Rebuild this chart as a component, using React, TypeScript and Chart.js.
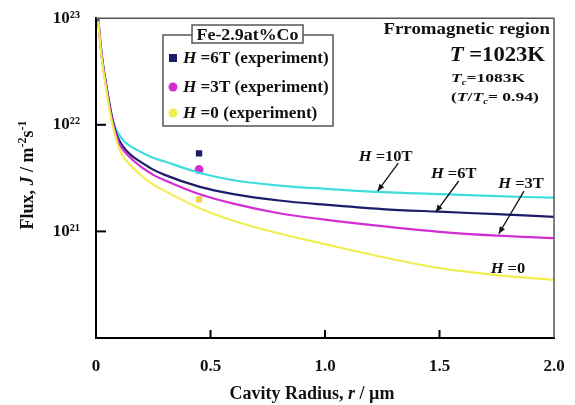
import React, { useEffect, useRef } from 'react';
import { Chart, registerables } from 'chart.js';
Chart.register(...registerables);

// ---- data ----
const radius = [0.01, 0.02, 0.03, 0.04, 0.05, 0.06, 0.07, 0.08, 0.09, 0.1, 0.12, 0.15, 0.2, 0.25, 0.3, 0.45, 0.6, 0.8, 1.0, 1.25, 1.5, 1.75, 2.0];
const flux10T = [1.0e23, 5.75e22, 3.8e22, 2.75e22, 2.04e22, 1.55e22, 1.2e22, 1.0e22, 8.9e21, 8.13e21, 7.08e21, 6.31e21, 5.5e21, 4.9e21, 4.52e21, 3.55e21, 3.02e21, 2.69e21, 2.51e21, 2.34e21, 2.24e21, 2.14e21, 2.07e21];
const flux6T = [9.77e22, 5.62e22, 3.72e22, 2.69e22, 2.0e22, 1.51e22, 1.17e22, 9.55e21, 8.13e21, 7.24e21, 6.17e21, 5.25e21, 4.42e21, 3.8e21, 3.39e21, 2.63e21, 2.24e21, 1.95e21, 1.78e21, 1.62e21, 1.53e21, 1.45e21, 1.37e21];
const flux3T = [9.55e22, 5.5e22, 3.63e22, 2.63e22, 1.95e22, 1.45e22, 1.12e22, 9.12e21, 7.76e21, 6.76e21, 5.75e21, 4.9e21, 3.98e21, 3.39e21, 3.02e21, 2.24e21, 1.82e21, 1.48e21, 1.29e21, 1.12e21, 9.9e20, 9.12e20, 8.65e20];
const flux0T = [9.33e22, 5.25e22, 3.47e22, 2.51e22, 1.82e22, 1.35e22, 1.05e22, 8.51e21, 7.08e21, 6.03e21, 5.01e21, 4.17e21, 3.31e21, 2.75e21, 2.4e21, 1.66e21, 1.26e21, 9.55e20, 7.59e20, 5.75e20, 4.52e20, 3.89e20, 3.52e20];

const expRadius = [0.45];
const exp6T = [5.4e21];
const exp3T = [3.8e21];
const exp0T = [2.0e21];

const xTickValues = [0, 0.5, 1.0, 1.5, 2.0];
const xTickLabels = ['0', '0.5', '1.0', '1.5', '2.0'];
const yTickValues = [1e20, 1e21, 1e22, 1e23];
const yTickLabels = ['', '10²¹', '10²²', '10²³'];

const curveLabels = ['=10T', '=6T', '=3T', '=0'];
const labelX = [1.265, 1.562, 1.856, 1.799];
const labelY = [5.07e21, 3.5e21, 2.84e21, 4.58e20];
const arrowFromX = [1.32, 1.584, 1.869];
const arrowFromY = [4.37e21, 2.97e21, 2.39e21];
const arrowToX = [1.23, 1.484, 1.759];
const arrowToY = [2.39e21, 1.52e21, 9.5e20];

const legendNames = [' =6T (experiment)', ' =3T (experiment)', ' =0 (experiment)'];
const legendTitle = 'Fe-2.9at%Co';

const C_CYAN = '#3fdcdc';
const C_NAVY = '#1c1c6a';
const C_MAG = '#d22ed2';
const C_YEL = '#f0ee50';
const C_YEL_PT = '#efd34a';

const FONT = '"Liberation Serif", "Times New Roman", serif';

type Seg = { t: string; it?: boolean; sup?: boolean; sub?: boolean };

function drawRich(ctx: CanvasRenderingContext2D, segs: Seg[], x: number, y: number, size: number, align: 'left' | 'center' | 'right', sx = 1) {
  const fontFor = (s: Seg) => `${s.it ? 'italic ' : ''}bold ${s.sup || s.sub ? Math.round(size * 0.65) : size}px ${FONT}`;
  let w = 0;
  for (const s of segs) { ctx.font = fontFor(s); w += ctx.measureText(s.t).width; }
  const W = w * sx;
  const x0 = align === 'left' ? x : align === 'center' ? x - W / 2 : x - W;
  ctx.save();
  ctx.translate(x0, y);
  ctx.scale(sx, 1);
  ctx.textAlign = 'left';
  ctx.textBaseline = 'alphabetic';
  let cx = 0;
  for (const s of segs) {
    ctx.font = fontFor(s);
    const dy = s.sup ? -size * 0.4 : s.sub ? size * 0.22 : 0;
    ctx.fillText(s.t, cx, dy);
    cx += ctx.measureText(s.t).width;
  }
  ctx.restore();
}

function arrow(ctx: CanvasRenderingContext2D, x0: number, y0: number, x1: number, y1: number) {
  ctx.beginPath();
  ctx.moveTo(x0, y0);
  ctx.lineTo(x1, y1);
  ctx.stroke();
  const a = Math.atan2(y1 - y0, x1 - x0);
  const L = 7, W = 3;
  ctx.beginPath();
  ctx.moveTo(x1, y1);
  ctx.lineTo(x1 - L * Math.cos(a) + W * Math.sin(a), y1 - L * Math.sin(a) - W * Math.cos(a));
  ctx.lineTo(x1 - L * Math.cos(a) - W * Math.sin(a), y1 - L * Math.sin(a) + W * Math.cos(a));
  ctx.closePath();
  ctx.fill();
}

const decorPlugin = {
  id: 'decor',
  afterDatasetsDraw(chart: any) {
    const { ctx, chartArea: ca, scales } = chart;
    const xs = scales.x, ys = scales.y;
    ctx.save();
    // frame top & right
    ctx.strokeStyle = '#555';
    ctx.lineWidth = 1.5;
    ctx.beginPath();
    ctx.moveTo(ca.left, ca.top);
    ctx.lineTo(ca.right, ca.top);
    ctx.lineTo(ca.right, ca.bottom);
    ctx.stroke();
    // inward ticks
    ctx.strokeStyle = '#000';
    ctx.lineWidth = 2;
    for (const v of xTickValues) {
      if (v === xTickValues[0] || v === xTickValues[xTickValues.length - 1]) continue;
      const px = xs.getPixelForValue(v);
      ctx.beginPath(); ctx.moveTo(px, ca.bottom); ctx.lineTo(px, ca.bottom - 8); ctx.stroke();
    }
    for (const v of yTickValues) {
      if (v === yTickValues[0] || v === yTickValues[yTickValues.length - 1]) continue;
      const py = ys.getPixelForValue(v);
      ctx.beginPath(); ctx.moveTo(ca.left, py); ctx.lineTo(ca.left + 10, py); ctx.stroke();
    }
    // axis titles
    ctx.fillStyle = '#111';
    drawRich(ctx, [{ t: 'Cavity Radius, ' }, { t: 'r', it: true }, { t: ' / µm' }], 312, 399, 18, 'center');
    ctx.save();
    ctx.translate(27, 175);
    ctx.rotate(-Math.PI / 2);
    drawRich(ctx, [{ t: 'Flux, ' }, { t: 'J', it: true }, { t: ' / m' }, { t: '-2', sup: true }, { t: 's' }, { t: '-1', sup: true }], 0, 6, 18, 'center');
    ctx.restore();

    // top-right texts
    drawRich(ctx, [{ t: 'Frromagnetic region' }], 550, 34, 16, 'right', 1.18);
    drawRich(ctx, [{ t: 'T', it: true }, { t: ' =1023K' }], 545, 61, 22, 'right', 1.03);
    drawRich(ctx, [{ t: 'T', it: true }, { t: 'c', it: true, sub: true }, { t: '=1083K' }], 451, 82, 13, 'left', 1.35);
    drawRich(ctx, [{ t: '(' }, { t: 'T', it: true }, { t: '/' }, { t: 'T', it: true }, { t: 'c', it: true, sub: true }, { t: '= 0.94)' }], 451, 101, 13, 'left', 1.35);

    // curve labels & arrows
    for (let i = 0; i < curveLabels.length; i++) {
      const px = xs.getPixelForValue(labelX[i]);
      const py = ys.getPixelForValue(labelY[i]);
      drawRich(ctx, [{ t: 'H', it: true }, { t: ' ' + curveLabels[i] }], px, py + 5, 15, 'center', 1.1);
    }
    ctx.strokeStyle = '#111';
    ctx.fillStyle = '#111';
    ctx.lineWidth = 1.3;
    for (let i = 0; i < arrowFromX.length; i++) {
      arrow(ctx, xs.getPixelForValue(arrowFromX[i]), ys.getPixelForValue(arrowFromY[i]), xs.getPixelForValue(arrowToX[i]), ys.getPixelForValue(arrowToY[i]));
    }

    // legend
    ctx.lineWidth = 1.5;
    ctx.strokeStyle = '#555';
    ctx.fillStyle = '#fff';
    ctx.fillRect(163, 35, 170, 91);
    ctx.strokeRect(163, 35, 170, 91);
    ctx.fillRect(192, 25, 111, 18);
    ctx.strokeRect(192, 25, 111, 18);
    ctx.fillStyle = '#111';
    drawRich(ctx, [{ t: legendTitle }], 247.5, 39.5, 16, 'center', 1.12);
    const ly = [58, 87, 113];
    const lc = [C_NAVY, C_MAG, C_YEL];
    for (let i = 0; i < 3; i++) {
      ctx.fillStyle = lc[i];
      if (i === 0) ctx.fillRect(169, ly[i] - 4, 8, 8);
      else { ctx.beginPath(); ctx.arc(173, ly[i], 4.5, 0, Math.PI * 2); ctx.fill(); }
      ctx.fillStyle = '#111';
      drawRich(ctx, [{ t: 'H', it: true }, { t: legendNames[i] }], 183, ly[i] + 5, 16, 'left', 1.07);
    }
    ctx.restore();
  },
};

export default function App() {
  const ref = useRef<HTMLCanvasElement>(null);
  useEffect(() => {
    if (!ref.current) return;
    const line = (data: number[], color: string) => ({
      data: radius.map((r, i) => ({ x: r, y: data[i] })),
      borderColor: color,
      backgroundColor: color,
      borderWidth: 2.2,
      pointRadius: 0,
      cubicInterpolationMode: 'monotone' as const,
      fill: false,
    });
    const pts = (data: number[], color: string, style: string) => ({
      data: expRadius.map((r, i) => ({ x: r, y: data[i] })),
      showLine: false,
      backgroundColor: color,
      borderColor: color,
      pointStyle: style,
      pointRadius: 4.5,
      pointBorderWidth: 0,
    });
    const chart = new Chart(ref.current, {
      type: 'line',
      data: {
        datasets: [
          line(flux0T, C_YEL),
          line(flux3T, C_MAG),
          line(flux6T, C_NAVY),
          line(flux10T, C_CYAN),
          pts(exp6T, C_NAVY, 'rect'),
          pts(exp3T, C_MAG, 'circle'),
          pts(exp0T, C_YEL_PT, 'rect'),
        ] as any,
      },
      options: {
        responsive: false,
        animation: false,
        layout: { padding: { top: 16, right: 21, left: 0, bottom: 0 } },
        plugins: { legend: { display: false }, tooltip: { enabled: false } },
        scales: {
          x: {
            type: 'linear',
            min: 0,
            max: 2,
            afterBuildTicks: (s: any) => { s.ticks = xTickValues.map((v) => ({ value: v })); },
            afterFit: (s: any) => { s.height = 67; },
            grid: { display: false },
            border: { display: true, color: '#000', width: 2 },
            ticks: {
              padding: 10,
              color: '#111',
              font: { family: FONT, size: 17, weight: 'bold' },
              callback: (v: any) => { const i = xTickValues.indexOf(Number(v)); return i >= 0 ? xTickLabels[i] : ''; },
              maxRotation: 0,
            },
          },
          y: {
            type: 'logarithmic',
            min: 1e20,
            max: 1e23,
            afterBuildTicks: (s: any) => { s.ticks = yTickValues.map((v) => ({ value: v })); },
            afterFit: (s: any) => { s.width = 96; },
            grid: { display: false },
            border: { display: true, color: '#000', width: 2 },
            ticks: {
              padding: 8,
              color: '#111',
              font: { family: FONT, size: 17, weight: 'bold' },
              callback: (v: any) => { const i = yTickValues.indexOf(Number(v)); return i >= 0 ? yTickLabels[i] : ''; },
            },
          },
        },
      },
      plugins: [decorPlugin],
    });
    return () => chart.destroy();
  }, []);
  return (
    <div style={{ position: 'fixed', left: 0, top: 0, width: 575, height: 405, background: '#fff' }}>
      <canvas ref={ref} width={575} height={405} style={{ display: 'block' }} />
    </div>
  );
}
